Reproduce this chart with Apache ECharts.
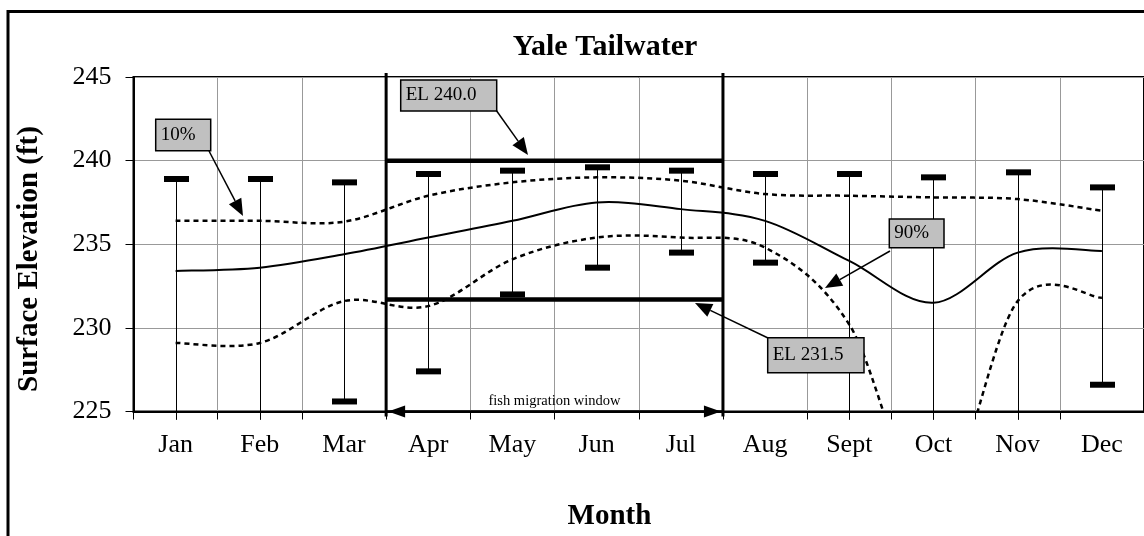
<!DOCTYPE html>
<html>
<head>
<meta charset="utf-8">
<title>Yale Tailwater</title>
<script src="https://cdn.jsdelivr.net/npm/echarts@6/dist/echarts.min.js"></script>
<style>
  html, body { margin: 0; padding: 0; background: #fff; overflow: hidden; }
  #chart { width: 1144px; height: 536px; }
</style>
</head>
<body>
<div id="chart"></div>
<script>
// monthly surface elevation (ft)
const months = ['Jan', 'Feb', 'Mar', 'Apr', 'May', 'Jun', 'Jul', 'Aug', 'Sept', 'Oct', 'Nov', 'Dec'];
const median = [233.4, 233.6, 234.4, 235.4, 236.4, 237.5, 237.1, 236.4, 234.0, 231.5, 234.5, 234.6];
const pct10 = [236.4, 236.4, 236.35, 237.9, 238.7, 239.0, 238.8, 238.0, 237.9, 237.8, 237.7, 237.0];
const pct90 = [229.1, 229.1, 231.6, 231.3, 234.1, 235.4, 235.4, 234.8, 230.2, 219.0, 231.6, 231.8];
const rangeHigh = [238.9, 238.9, 238.7, 239.2, 239.4, 239.6, 239.4, 239.2, 239.2, 239.0, 239.3, 238.4];
const rangeLow = [224.5, 224.5, 225.6, 227.4, 232.0, 233.6, 234.5, 233.9, 224.5, 224.5, 224.5, 226.6];
const yTicks = [225, 230, 235, 240, 245];
// fish migration window (category boundaries) and elevation limits
const windowEdges = [2.5, 6.5];
const elLevels = [240.0, 231.7];

const FONT = '"Liberation Serif", "Times New Roman", serif';
const chart = echarts.init(document.getElementById('chart'));

const yMin = yTicks[0];
const yMax = yTicks[yTicks.length - 1];

// spreadsheet-style smoothed line through the points (catmull-rom as bezier)
function curvePath(api, values) {
  const pts = values.map((v, i) => api.coord([i, v]));
  let d = 'M' + pts[0][0] + ' ' + pts[0][1];
  for (let i = 0; i < pts.length - 1; i++) {
    const p0 = pts[Math.max(i - 1, 0)], p1 = pts[i], p2 = pts[i + 1];
    const p3 = pts[Math.min(i + 2, pts.length - 1)];
    const c1x = p1[0] + (p2[0] - p0[0]) / 6, c1y = p1[1] + (p2[1] - p0[1]) / 6;
    const c2x = p2[0] - (p3[0] - p1[0]) / 6, c2y = p2[1] - (p3[1] - p1[1]) / 6;
    d += ' C' + [c1x, c1y, c2x, c2y, p2[0], p2[1]].join(' ');
  }
  return d;
}

function curveSeries(name, values, lineStyle) {
  return {
    name: name,
    type: 'custom',
    xAxisIndex: 0,
    clip: true,
    z: 3,
    encode: { x: 0, y: 1 },
    data: values.map((v, i) => [i, v]),
    renderItem: (params, api) => {
      if (params.dataIndex !== 0) return null;
      return {
        type: 'path',
        shape: { pathData: curvePath(api, values) },
        style: Object.assign({ fill: 'none', stroke: '#000' }, lineStyle)
      };
    }
  };
}

function arrow(x1, y1, x2, y2) {
  const len = 17, half = 7;
  const a = Math.atan2(y2 - y1, x2 - x1);
  const bx = x2 - len * Math.cos(a), by = y2 - len * Math.sin(a);
  const px = -Math.sin(a) * half, py = Math.cos(a) * half;
  return [
    { type: 'line', shape: { x1: x1, y1: y1, x2: bx, y2: by }, style: { stroke: '#000', lineWidth: 1.5 } },
    { type: 'polygon', shape: { points: [[x2, y2], [bx + px, by + py], [bx - px, by - py]] }, style: { fill: '#000' } }
  ];
}

function noteBox(x, y, w, h, text) {
  return [
    { type: 'rect', shape: { x: x, y: y, width: w, height: h }, style: { fill: '#c0c0c0', stroke: '#000', lineWidth: 1.5 } },
    { type: 'text', x: x + 5, y: y + h / 2, style: { text: text, font: '19px ' + FONT, fill: '#000', verticalAlign: 'middle' } }
  ];
}

const option = {
  animation: false,
  title: {
    text: 'Yale Tailwater',
    left: 600,
    top: 27,
    textAlign: 'center',
    textStyle: { fontFamily: FONT, fontSize: 30, fontWeight: 'bold', color: '#000' }
  },
  grid: {
    left: 133.5,
    top: 77,
    width: 1013,
    height: 334.5,
    show: true,
    borderColor: '#000',
    borderWidth: 2
  },
  xAxis: [
    {
      type: 'category',
      data: months,
      boundaryGap: true,
      axisLine: { onZero: false, lineStyle: { color: '#000', width: 2 } },
      axisTick: { show: true, length: 8, lineStyle: { color: '#000' } },
      axisLabel: { fontFamily: FONT, fontSize: 26, color: '#000', margin: 21 },
      splitLine: { show: true, lineStyle: { color: '#999', width: 1 } }
    },
    { type: 'value', min: -0.5, max: 11.5, show: false }
  ],
  yAxis: {
    type: 'value',
    min: yMin,
    max: yMax,
    interval: yTicks[1] - yTicks[0],
    axisLine: { show: true, onZero: false, lineStyle: { color: '#000', width: 2 } },
    axisTick: { show: true, length: 8, lineStyle: { color: '#000' } },
    axisLabel: { fontFamily: FONT, fontSize: 26, color: '#000', margin: 22 },
    splitLine: { show: true, lineStyle: { color: '#999', width: 1 } }
  },
  series: [
    {
      // max / min range bars
      type: 'custom',
      xAxisIndex: 0,
      clip: false,
      z: 2,
      encode: { x: 0, y: [1, 2] },
      data: months.map((m, i) => [i, rangeLow[i], rangeHigh[i]]),
      renderItem: (params, api) => {
        const lo = api.coord([api.value(0), api.value(1)]);
        const hi = api.coord([api.value(0), api.value(2)]);
        const x = Math.round(hi[0]) + 0.5;
        const kids = [
          { type: 'line', shape: { x1: x, y1: hi[1], x2: x, y2: lo[1] }, style: { stroke: '#000', lineWidth: 1 } },
          { type: 'rect', shape: { x: x - 12.5, y: hi[1] - 3, width: 25, height: 6 }, style: { fill: '#000' } }
        ];
        if (api.value(1) >= yMin) {
          kids.push({ type: 'rect', shape: { x: x - 12.5, y: lo[1] - 3, width: 25, height: 6 }, style: { fill: '#000' } });
        }
        return { type: 'group', children: kids };
      }
    },
    curveSeries('median', median, { lineWidth: 2 }),
    curveSeries('10%', pct10, { lineWidth: 2.5, lineDash: [5, 4] }),
    curveSeries('90%', pct90, { lineWidth: 2.5, lineDash: [5, 4] }),
    {
      // fish migration window edges
      type: 'custom',
      xAxisIndex: 1,
      clip: false,
      z: 4,
      data: windowEdges.map(v => [v]),
      renderItem: (params, api) => {
        const top = api.coord([api.value(0), yMax]);
        const bot = api.coord([api.value(0), yMin]);
        return { type: 'line', shape: { x1: top[0], y1: top[1] - 4, x2: bot[0], y2: bot[1] + 5 }, style: { stroke: '#000', lineWidth: 3 } };
      }
    },
    {
      // EL 240.0 and EL 231.5 limits
      type: 'custom',
      xAxisIndex: 1,
      clip: false,
      z: 4,
      data: elLevels.map(v => [windowEdges[0], windowEdges[1], v]),
      renderItem: (params, api) => {
        const a = api.coord([api.value(0), api.value(2)]);
        const b = api.coord([api.value(1), api.value(2)]);
        return { type: 'line', shape: { x1: a[0], y1: a[1], x2: b[0], y2: b[1] }, style: { stroke: '#000', lineWidth: 4.5 } };
      }
    },
    {
      // double arrow along the axis
      type: 'custom',
      xAxisIndex: 1,
      clip: false,
      z: 5,
      data: [[windowEdges[0], windowEdges[1], yMin]],
      renderItem: (params, api) => {
        const a = api.coord([api.value(0), api.value(2)]);
        const b = api.coord([api.value(1), api.value(2)]);
        const len = 17, half = 6;
        return {
          type: 'group',
          children: [
            { type: 'line', shape: { x1: a[0], y1: a[1], x2: b[0], y2: b[1] }, style: { stroke: '#000', lineWidth: 2.5 } },
            { type: 'polygon', shape: { points: [[a[0] + 2, a[1]], [a[0] + 2 + len, a[1] - half], [a[0] + 2 + len, a[1] + half]] }, style: { fill: '#000' } },
            { type: 'polygon', shape: { points: [[b[0] - 2, b[1]], [b[0] - 2 - len, b[1] - half], [b[0] - 2 - len, b[1] + half]] }, style: { fill: '#000' } },
            { type: 'text', x: (a[0] + b[0]) / 2, y: a[1] - 10, style: { text: 'fish migration window', font: '14.5px ' + FONT, fill: '#000', align: 'center', verticalAlign: 'middle' } }
          ]
        };
      }
    }
  ],
  graphic: [
    { type: 'rect', z: 100, shape: { x: 8, y: 11.5, width: 1200, height: 600 }, style: { fill: null, stroke: '#000', lineWidth: 3 } },
    { type: 'text', z: 100, x: 609.5, y: 517, style: { text: 'Month', font: 'bold 29px ' + FONT, fill: '#000', align: 'center', verticalAlign: 'middle' } },
    { type: 'text', z: 100, x: 30, y: 259, rotation: Math.PI / 2, style: { text: 'Surface Elevation (ft)', font: 'bold 29px ' + FONT, fill: '#000', align: 'center', verticalAlign: 'middle' } },
    ...arrow(209, 151, 243, 216).map(e => Object.assign(e, { z: 100 })),
    ...arrow(496, 110, 528, 155).map(e => Object.assign(e, { z: 100 })),
    ...arrow(890, 251, 825, 288).map(e => Object.assign(e, { z: 100 })),
    ...arrow(768, 338, 695, 303).map(e => Object.assign(e, { z: 100 })),
    ...noteBox(155.7, 119.3, 55, 31.4, '10%').map(e => Object.assign(e, { z: 101 })),
    ...noteBox(400.7, 80, 96, 31, 'EL 240.0').map(e => Object.assign(e, { z: 101 })),
    ...noteBox(889.3, 219, 54.7, 28.7, '90%').map(e => Object.assign(e, { z: 101 })),
    ...noteBox(767.7, 337.7, 96.3, 35, 'EL 231.5').map(e => Object.assign(e, { z: 101 }))
  ]
};

chart.setOption(option);
</script>
</body>
</html>
